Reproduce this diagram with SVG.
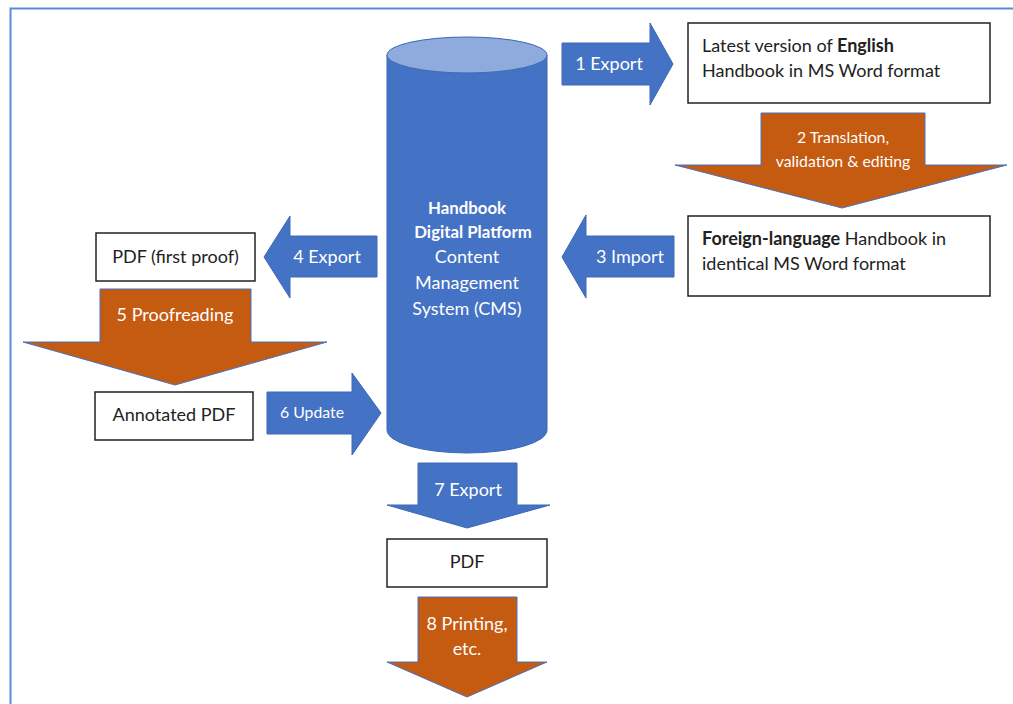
<svg xmlns="http://www.w3.org/2000/svg" width="1013" height="704" viewBox="0 0 1013 704">
<style>
.t{font-family:Lato,"Open Sans","Liberation Sans",sans-serif;font-size:18px;fill:#222}
.w{font-family:Lato,"Open Sans","Liberation Sans",sans-serif;font-size:18px;fill:#fff;text-anchor:middle}
.s{font-size:15.8px}
.b{font-weight:bold}
.cb{font-weight:bold;font-size:16.8px}
.box{fill:#fff;stroke:#222;stroke-width:1.5}
.blue{fill:#4472C4;stroke:#3D68B5;stroke-width:1}
.orange{fill:#C55A11;stroke:#4472C4;stroke-width:1}
</style>
<rect x="0" y="0" width="1013" height="704" fill="#fff"/>
<path d="M10.5,704 V8.5 H1013" fill="none" stroke="#5B8BD9" stroke-width="2"/>

<g id="cms">
<path d="M387,55 V430 A80,23 0 0 0 547,430 V55 Z" fill="#4472C4" stroke="#3D68B5" stroke-width="1"/>
<ellipse cx="467" cy="55" rx="80" ry="18" fill="#8FAADC" stroke="#3D68B5" stroke-width="1"/>
<text class="w cb" x="467" y="214">Handbook</text>
<text class="w cb" x="473" y="238">Digital Platform</text>
<text class="w" x="467" y="263">Content</text>
<text class="w" x="467" y="289">Management</text>
<text class="w" x="467" y="315">System (CMS)</text>
</g>

<g id="connectors">
<g id="a1"><path class="blue" d="M562,43 H650 V23 L673,64 L650,105 V85 H562 Z"/><text class="w" x="609" y="70">1 Export</text></g>
<g id="a2"><path class="orange" d="M761,113 H925 V165 H1007 L842,208 L675,165 H761 Z"/><text class="w s" x="843" y="143">2 Translation,</text><text class="w s" x="843" y="167">validation  &amp; editing</text></g>
<g id="a3"><path class="blue" d="M674,236 H586 V215 L562,257 L586,298 V277 H674 Z"/><text class="w" x="630" y="263">3 Import</text></g>
<g id="a4"><path class="blue" d="M377,236 H290 V216 L264,257 L290,298 V277 H377 Z"/><text class="w" x="327" y="263">4 Export</text></g>
<g id="a5"><path class="orange" d="M100,289 H251 V342 H327 L175,385 L23,342 H100 Z"/><text class="w" x="175" y="321">5 Proofreading</text></g>
<g id="a6"><path class="blue" d="M267,392 H352 V373 L381,413 L352,455 V434 H267 Z"/><text class="w s" x="312" y="418">6 Update</text></g>
<g id="a7"><path class="blue" d="M418,463 H517 V505 H550 L467,528 L387,505 H418 Z"/><text class="w" x="468" y="496">7 Export</text></g>
<g id="a8"><path class="orange" d="M418,597 H517 V662 H547 L467,697 L387,662 H418 Z"/><text class="w" x="467" y="630">8 Printing,</text><text class="w" x="467" y="655">etc.</text></g>
</g>

<g id="english">
<rect class="box" x="688" y="23" width="302" height="80"/>
<text class="t" x="702" y="52">Latest version of <tspan class="b">English</tspan></text>
<text class="t" x="702" y="77">Handbook in MS Word format</text>
</g>
<g id="foreign">
<rect class="box" x="688" y="216" width="302" height="80"/>
<text class="t" x="702" y="245"><tspan class="b">Foreign-language</tspan> Handbook in</text>
<text class="t" x="702" y="270">identical MS Word format</text>
</g>
<g id="pdf-first">
<rect class="box" x="96" y="233" width="159" height="48"/>
<text class="t" x="175.5" y="263" text-anchor="middle">PDF (first proof)</text>
</g>
<g id="annotated">
<rect class="box" x="95" y="392" width="158" height="48"/>
<text class="t" x="174" y="421" text-anchor="middle">Annotated PDF</text>
</g>
<g id="pdf">
<rect class="box" x="387" y="539" width="160" height="48"/>
<text class="t" x="467" y="568" text-anchor="middle">PDF</text>
</g>
</svg>
